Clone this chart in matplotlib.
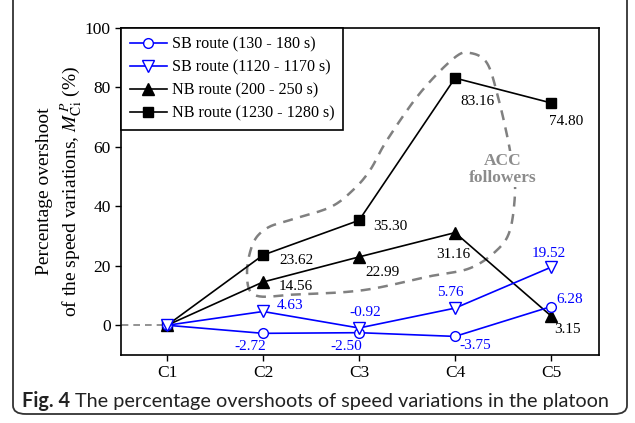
import matplotlib
matplotlib.use('Agg')
import matplotlib.pyplot as plt
import numpy as np
from matplotlib.patches import FancyBboxPatch

plt.rcParams['font.family'] = 'Liberation Serif'
plt.rcParams['mathtext.fontset'] = 'stix'

# data
cats = ['C1', 'C2', 'C3', 'C4', 'C5']
sb_130 = [0, -2.72, -2.50, -3.75, 6.28]
sb_1120 = [0, 4.63, -0.92, 5.76, 19.52]
nb_200 = [0, 14.56, 22.99, 31.16, 3.15]
nb_1230 = [0, 23.62, 35.30, 83.16, 74.80]
names = ['SB route (130 - 180 s)', 'SB route (1120 - 1170 s)',
         'NB route (200 - 250 s)', 'NB route (1230 - 1280 s)']

# label offsets in pixels (dx, dy) for C2..C5
off_sb130 = [(-13, -13), (-13, -14), (20, -9), (19, 7)]
off_sb1120 = [(27, 6), (6, 15), (-5, 16), (-2, 14)]
off_nb200 = [(33, -5), (23, -16), (-2, -22), (16, -14)]
off_nb1230 = [(33, -5), (31, -6), (22, -23), (15, -19)]

# dashed loop around the ACC followers
loop_x = [3.156, 3.333, 3.448, 3.552, 3.604, 3.625, 3.573, 3.438, 3.156, 2.740,
          2.042, 1.354, 0.917, 0.833, 0.896, 1.042, 1.281, 1.698, 1.938, 2.115,
          2.292, 2.635, 2.99]
loop_y = [91.6, 88.2, 76.8, 62.3, 52.2, 44.4, 32.0, 25.3, 19.2, 16.5,
          11.8, 10.4, 10.1, 17.5, 27.6, 32.7, 35.4, 39.7, 45.5, 52.2,
          62.3, 78.1, 89.9]


def catmull_closed(px, py, n=20):
    px = np.array(px); py = np.array(py)
    N = len(px)
    xs, ys = [], []
    for i in range(N):
        p0 = np.array([px[i-1], py[i-1]])
        p1 = np.array([px[i], py[i]])
        p2 = np.array([px[(i+1) % N], py[(i+1) % N]])
        p3 = np.array([px[(i+2) % N], py[(i+2) % N]])
        for t in np.linspace(0, 1, n, endpoint=False):
            t2, t3 = t*t, t*t*t
            pt = 0.5*((2*p1) + (-p0+p2)*t + (2*p0-5*p1+4*p2-p3)*t2 + (-p0+3*p1-3*p2+p3)*t3)
            xs.append(pt[0]); ys.append(pt[1])
    xs.append(xs[0]); ys.append(ys[0])
    return xs, ys


fig = plt.figure(figsize=(6.35, 4.23), dpi=100)
ax = fig.add_axes([0.1906, 0.1608, 0.7527, 0.773])
x = np.arange(len(cats))

ax.hlines(0, -0.6, 0, colors='#808080', linestyles=(0, (4, 3)), lw=1.2)

lx, ly = catmull_closed(loop_x, loop_y)
ax.plot(lx, ly, color='#808080', ls=(0, (4, 3)), lw=1.8, zorder=1)
ax.text(3.5, 52.5, 'ACC\nfollowers', color='#8c8c8c', fontsize=12.5, fontweight='bold',
        ha='center', va='center', linespacing=1.1,
        bbox=dict(facecolor='white', edgecolor='none', pad=1), zorder=2)

ax.plot(x, sb_130, color='blue', marker='o', ms=7, mfc='white', mec='blue', lw=1.2, label=names[0], zorder=4)
ax.plot(x, sb_1120, color='blue', marker='v', ms=8, mfc='white', mec='blue', lw=1.2, label=names[1], zorder=4)
ax.plot(x, nb_200, color='black', marker='^', ms=8.5, lw=1.2, label=names[2], zorder=3)
ax.plot(x, nb_1230, color='black', marker='s', ms=6.5, lw=1.2, label=names[3], zorder=3)

for vals, offs, col in [(sb_130, off_sb130, 'blue'), (sb_1120, off_sb1120, 'blue'),
                        (nb_200, off_nb200, 'black'), (nb_1230, off_nb1230, 'black')]:
    for i in range(1, len(vals)):
        ax.annotate('%.2f' % vals[i], (x[i], vals[i]), xytext=offs[i-1],
                    textcoords='offset pixels', ha='center', va='center',
                    color=col, fontsize=11, zorder=5)

ax.set_xlim(-0.48, 4.5)
ax.set_ylim(-10, 100)
ax.set_xticks(x)
ax.set_xticklabels(cats)
ax.set_yticks([0, 20, 40, 60, 80, 100])
ax.tick_params(direction='out', length=4, width=1, labelsize=12.5, top=False, right=False)
for s in ax.spines.values():
    s.set_linewidth(1.2)
ax.set_ylabel('Percentage overshoot\nof the speed variations, $M^{\\,P}_{\\mathrm{Ci}}$ (%)',
              fontsize=14, linespacing=1.25)
ax.yaxis.set_label_coords(-0.078, 0.5)

leg = ax.legend(loc='upper left', borderaxespad=0, fontsize=11.6, fancybox=False,
                edgecolor='black', framealpha=1, handlelength=2.3,
                labelspacing=0.42, borderpad=0.55, handletextpad=0.3)
leg.get_frame().set_linewidth(1.2)

# outer frame and caption
frame = FancyBboxPatch((13/635, 9/423), 614/635, 1.2,
                       boxstyle='round,pad=0,rounding_size=0.02',
                       transform=fig.transFigure, fill=False, ec='#333333', lw=1.3)
fig.patches.append(frame)
t1 = fig.text(22/635, 1-401/423, 'Fig. 4', fontweight='bold', fontsize=14.3,
              family='Lato', va='center', color='#222222')
fig.canvas.draw()
bb = t1.get_window_extent()
fig.text((bb.x1 + 5)/635, 1-401/423, 'The percentage overshoots of speed variations in the platoon',
         fontsize=14.3, family='Lato', va='center', color='#222222')

fig.savefig('out.png', dpi=100)
